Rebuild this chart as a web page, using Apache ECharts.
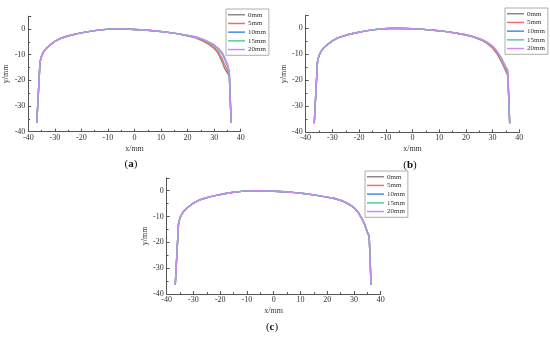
<!DOCTYPE html>
<html>
<head>
<meta charset="utf-8">
<script src="https://cdn.jsdelivr.net/npm/echarts@6/dist/echarts.min.js"></script>
<style>
html,body{margin:0;padding:0;background:#fff;}
#c{width:550px;height:337px;}
</style>
</head>
<body>
<div id="c"></div>
<script>
// ---- data ----
const seriesNames = ['0mm', '5mm', '10mm', '15mm', '20mm'];
const panelLabels = ['a', 'b', 'c'];
const xTicks = [-40, -30, -20, -10, 0, 10, 20, 30, 40];
const yTicks = [-40, -30, -20, -10, 0];

// shared part of the profile (left flank and crown)
const xLeft = [-36.8, -35.6, -35.2, -34.8, -34.3, -33.5, -32.5, -31, -30, -28, -26, -24, -21, -18, -15, -12, -9, -6, -3, 0, 4, 8, 12, 16];
const yLeft = [-36.5, -13, -11.2, -10.0, -9.0, -7.8, -6.8, -5.6, -4.8, -3.7, -3.0, -2.4, -1.7, -1.1, -0.6, -0.25, -0.05, 0, -0.05, -0.2, -0.4, -0.75, -1.2, -1.8];

// right part (gauge corner), differs per series
const xRight = [20, 23, 26, 28, 30, 31.5, 33, 34, 35, 35.7, 36.4];
// panel (a)
const a0  = [-2.6, -3.4, -4.8, -6.0, -7.6, -9.4, -12.8, -15.5, -17.2, -18.3, -36.5];
const a5  = [-2.6, -3.3, -4.6, -5.8, -7.2, -8.8, -11.6, -14.0, -16.3, -17.8, -36.5];
const a10 = [-2.5, -3.1, -4.2, -5.2, -6.4, -7.7, -9.6, -11.6, -14.2, -16.8, -36.5];
const a15 = [-2.5, -3.1, -4.2, -5.2, -6.4, -7.8, -9.7, -11.7, -14.4, -16.9, -36.5];
const a20 = [-2.5, -3.0, -4.0, -5.0, -6.1, -7.4, -9.1, -11.0, -13.6, -16.3, -36.5];
// panel (b)
const b0  = [-2.6, -3.4, -4.6, -5.8, -7.6, -9.6, -12.2, -14.3, -16.6, -18.2, -36.5];
const b5  = [-2.6, -3.4, -4.6, -5.8, -7.5, -9.4, -12.0, -14.0, -16.3, -18.0, -36.5];
const b10 = [-2.5, -3.3, -4.4, -5.5, -7.0, -8.8, -11.2, -13.2, -15.3, -16.8, -36.5];
const b15 = [-2.5, -3.3, -4.4, -5.5, -7.0, -8.8, -11.3, -13.3, -15.5, -17.0, -36.5];
const b20 = [-2.5, -3.2, -4.3, -5.3, -6.8, -8.5, -10.8, -12.8, -14.8, -16.0, -36.5];
// panel (c)
const c0  = [-2.5, -3.1, -4.1, -5.2, -6.6, -8.3, -10.9, -13.2, -16.2, -17.8, -36.5];
const c5  = [-2.5, -3.1, -4.1, -5.2, -6.6, -8.3, -10.9, -13.1, -16.1, -17.7, -36.5];
const c10 = [-2.5, -3.0, -4.0, -5.1, -6.5, -8.2, -10.8, -13.0, -16.0, -17.5, -36.5];
const c15 = [-2.6, -3.1, -4.1, -5.1, -6.5, -8.2, -10.8, -13.0, -16.0, -17.5, -36.5];
const c20 = [-2.5, -3.0, -4.0, -5.0, -6.4, -8.1, -10.7, -12.9, -15.8, -17.2, -36.5];

const panelData = [[a0, a5, a10, a15, a20], [b0, b5, b10, b15, b20], [c0, c5, c10, c15, c20]];

// ---- styling ----
const colors = ['#8a8a8a', '#f26b6b', '#4a8de6', '#55cc99', '#c98cf2'];
const FONT = 'Liberation Serif';
const grids = [
  {left: 28.3, top: 16.2, width: 212.4, height: 115.5},
  {left: 305.7, top: 15.3, width: 213.6, height: 117},
  {left: 166.7, top: 177.8, width: 214, height: 116.2}
];
const legendPos = [
  {left: 226, top: 9},
  {left: 505, top: 8},
  {left: 365, top: 171}
];
const labelPos = [[131, 164], [410, 165], [272, 327]];

function buildPoints(yr) {
  const pts = [];
  for (let i = 0; i < xLeft.length; i++) pts.push([xLeft[i], yLeft[i]]);
  for (let i = 0; i < xRight.length; i++) pts.push([xRight[i], yr[i]]);
  return pts;
}

const axisCommonLine = {show: true, onZero: false, lineStyle: {color: '#555', width: 1}};
const xAxes = [], yAxes = [], series = [], legends = [], graphics = [];
grids.forEach((g, p) => {
  xAxes.push({
    type: 'value', gridIndex: p, min: xTicks[0], max: xTicks[xTicks.length - 1], interval: 10,
    name: 'x/mm', nameLocation: 'middle', nameGap: 13,
    nameTextStyle: {fontFamily: FONT, fontSize: 8, color: '#333'},
    axisLine: axisCommonLine,
    axisTick: {show: true, inside: true, length: 3, lineStyle: {color: '#555'}},
    minorTick: {show: true, splitNumber: 2, length: 1.8, lineStyle: {color: '#555'}},
    axisLabel: {fontFamily: FONT, fontSize: 8, color: '#333', margin: 2,
      formatter: v => xTicks.includes(v) ? String(v) : ''},
    splitLine: {show: false}
  });
  yAxes.push({
    type: 'value', gridIndex: p, min: yTicks[0], max: 5, interval: 10,
    name: 'y/mm', nameLocation: 'middle', nameGap: 18, nameRotate: 90,
    nameTextStyle: {fontFamily: FONT, fontSize: 8, color: '#333'},
    axisLine: axisCommonLine,
    axisTick: {show: true, inside: true, length: 3, lineStyle: {color: '#555'}},
    minorTick: {show: true, splitNumber: 2, length: 1.8, lineStyle: {color: '#555'}},
    axisLabel: {fontFamily: FONT, fontSize: 8, color: '#333', margin: 3,
      formatter: v => yTicks.includes(v) ? String(v) : ''},
    splitLine: {show: false}
  });
  seriesNames.forEach((n, s) => {
    series.push({
      type: 'line', name: n, xAxisIndex: p, yAxisIndex: p,
      data: buildPoints(panelData[p][s]),
      showSymbol: false, symbol: 'none', smooth: false,
      lineStyle: {color: colors[s], width: 1.4, join: 'round'}, itemStyle: {color: colors[s]},
      animation: false, silent: true
    });
  });
  legends.push({
    data: seriesNames, orient: 'vertical', left: legendPos[p].left, top: legendPos[p].top,
    itemWidth: 17, itemHeight: 1.5, itemGap: 1.2, icon: 'rect',
    padding: [2, 3, 2, 2], borderColor: '#999', borderWidth: 0.8,
    textStyle: {fontFamily: FONT, fontSize: 7, color: '#333', padding: [0, 0, 0, -2], lineHeight: 7.5},
    selectedMode: false
  });
  graphics.push({
    type: 'text', x: labelPos[p][0], y: labelPos[p][1],
    style: {
      text: '({b|' + panelLabels[p] + '})', fill: '#111', font: '11px ' + FONT,
      align: 'center', verticalAlign: 'middle',
      rich: {b: {fontFamily: FONT, fontSize: 11, fontWeight: 'bold', fill: '#111'}}
    }
  });
});

const chart = echarts.init(document.getElementById('c'), null, {renderer: 'canvas'});
chart.setOption({
  animation: false,
  backgroundColor: '#fff',
  grid: grids,
  xAxis: xAxes,
  yAxis: yAxes,
  legend: legends,
  series: series,
  graphic: graphics
});
</script>
</body>
</html>
